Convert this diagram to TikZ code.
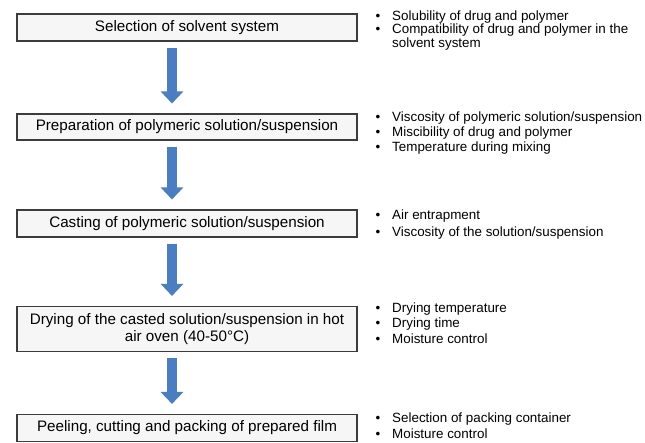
\documentclass[tikz,border=0pt]{standalone}
\usepackage{fontspec}
\setmainfont{Liberation Sans}
\usetikzlibrary{arrows.meta}
\definecolor{boxborder}{RGB}{60,60,60}
\definecolor{boxfill}{RGB}{246,246,246}
\definecolor{arrowblue}{RGB}{74,126,193}
\newcommand\bl[1]{\makebox[0pt][r]{\textbullet\hspace{12pt}}#1}
\begin{document}
\begin{tikzpicture}[x=1pt,y=-1pt,
  stepbox/.style={draw=boxborder, line width=1.1pt, fill=boxfill, minimum width=340pt,
    inner sep=0pt, align=center, font=\fontsize{15.2}{17.5}\selectfont},
  bigarrow/.style={draw=arrowblue, line width=10pt,
    -{Triangle[width=22pt,length=12pt]}},
  note/.style={anchor=base west, inner sep=0pt, font=\fontsize{13.4}{15}\selectfont}]
\useasboundingbox (0,0) rectangle (645,443);
\fill[white] (0,0) rectangle (645,443);
% process boxes
\node[stepbox, minimum height=27pt] (s1) at (187,27.5) {Selection of solvent system};
\node[stepbox, minimum height=26pt] (s2) at (187,127) {Preparation of polymeric solution/suspension};
\node[stepbox, minimum height=27pt] (s3) at (187,223.5) {Casting of polymeric solution/suspension};
\node[stepbox, minimum height=45pt] (s4) at (187,329) {Drying of the casted solution/suspension in hot\\air oven (40-50\textdegree C)};
\node[stepbox, minimum height=27pt] (s5) at (187,428) {Peeling, cutting and packing of prepared film};
% arrows
\foreach \a/\b in {s1/s2,s2/s3,s3/s4,s4/s5}{
  \draw[bigarrow] ([xshift=-15pt,yshift=-6pt]\a.south) -- ([xshift=-15pt,yshift=10pt]\b.north);
}
% notes
\node[note] (n1a) at (392,20.5) {\bl{Solubility of drug and polymer}};
\node[note] (n1b) at (392,34) {\bl{Compatibility of drug and polymer in the}};
\node[note] (n1c) at (392,47.5) {solvent system};
\node[note] (n2a) at (392,121.5) {\bl{Viscosity of polymeric solution/suspension}};
\node[note] (n2b) at (392,136.5) {\bl{Miscibility of drug and polymer}};
\node[note] (n2c) at (392,152) {\bl{Temperature during mixing}};
\node[note] (n3a) at (392,219.5) {\bl{Air entrapment}};
\node[note] (n3b) at (392,236.5) {\bl{Viscosity of the solution/suspension}};
\node[note] (n4a) at (392,312.5) {\bl{Drying temperature}};
\node[note] (n4b) at (392,327.5) {\bl{Drying time}};
\node[note] (n4c) at (392,343.5) {\bl{Moisture control}};
\node[note] (n5a) at (392,422.5) {\bl{Selection of packing container}};
\node[note] (n5b) at (392,438.5) {\bl{Moisture control}};
\end{tikzpicture}
\end{document}
